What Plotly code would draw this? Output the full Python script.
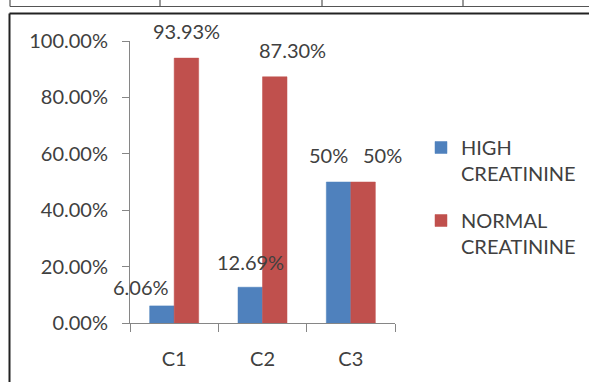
import plotly.graph_objects as go

# Creatinine groups per class
categories = ["C1", "C2", "C3"]
high_creatinine = [6.06, 12.69, 50]
normal_creatinine = [93.93, 87.30, 50]
series_names = ["HIGH<br>CREATININE", "NORMAL<br>CREATININE"]
y_ticks = [0, 20, 40, 60, 80, 100]

W, H = 589, 382
ML, MR, MT, MB = 130, 194, 41, 59
BARGAP = 0.445
BLUE = "#4F81BD"
RED = "#C0504D"
TEXT = "#404040"
AXIS = "#868686"
FONT = "Lato"


def fmt(v):
    return f"{v:.0f}%" if float(v).is_integer() else f"{v:.2f}%"


def px_x(px):
    return (px - ML) / (W - ML - MR)


def px_y(py):
    return (H - MB - py) / (H - MT - MB)


fig = go.Figure()
fig.add_trace(go.Bar(x=categories, y=high_creatinine, name=series_names[0],
                     marker=dict(color=BLUE, line=dict(color=BLUE, width=0.5)),
                     legendgroup="high"))
fig.add_trace(go.Bar(x=categories, y=normal_creatinine, name=series_names[1],
                     marker=dict(color=RED, line=dict(color=RED, width=0.5)),
                     legendgroup="normal"))

# Value labels, placed relative to each bar (pixel nudges per label)
half = (1 - BARGAP) / 4
nudges_high = [(-21, 19), (0, 25), (-10, 27)]
nudges_normal = [(0, 27), (17.5, 27), (19.5, 27)]
annotations = []
for i, (v, (dx, dy)) in enumerate(zip(high_creatinine, nudges_high)):
    annotations.append(dict(x=i - half, y=v, xref="x", yref="y", text=fmt(v),
                            showarrow=False, xshift=dx, yshift=dy,
                            font=dict(family=FONT, size=20, color=TEXT)))
for i, (v, (dx, dy)) in enumerate(zip(normal_creatinine, nudges_normal)):
    annotations.append(dict(x=i + half, y=v, xref="x", yref="y", text=fmt(v),
                            showarrow=False, xshift=dx, yshift=dy,
                            font=dict(family=FONT, size=20, color=TEXT)))

# Page frame: table row above and the box around the chart
shapes = [
    dict(type="line", xref="paper", yref="paper", x0=px_x(10), x1=px_x(600),
         y0=px_y(6.5), y1=px_y(6.5), line=dict(color="#555555", width=1.2)),
]
for vx in [10, 160, 322, 463]:
    shapes.append(dict(type="line", xref="paper", yref="paper", x0=px_x(vx), x1=px_x(vx),
                       y0=px_y(-2), y1=px_y(6.5), line=dict(color="#555555", width=1.2)))
shapes += [
    dict(type="line", xref="paper", yref="paper", x0=px_x(9.5), x1=px_x(600),
         y0=px_y(13.5), y1=px_y(13.5), line=dict(color="#222222", width=2)),
    dict(type="line", xref="paper", yref="paper", x0=px_x(9.5), x1=px_x(9.5),
         y0=px_y(13.5), y1=px_y(400), line=dict(color="#222222", width=2)),
]

fig.update_layout(
    width=W, height=H,
    margin=dict(l=ML, r=MR, t=MT, b=MB, pad=0),
    paper_bgcolor="white", plot_bgcolor="white",
    barmode="group", bargap=BARGAP, bargroupgap=0,
    font=dict(family=FONT, size=20, color=TEXT),
    showlegend=True,
    legend=dict(xref="container", yref="container", x=421 / W, y=1 - 128 / H,
                xanchor="left", yanchor="top", valign="top",
                font=dict(family=FONT, size=20, color=TEXT),
                tracegroupgap=18, traceorder="grouped",
                bgcolor="rgba(0,0,0,0)", borderwidth=0),
    annotations=annotations,
    shapes=shapes,
)
fig.update_xaxes(type="category", range=[-0.5, len(categories) - 0.5],
                 tickson="boundaries", ticks="outside", ticklen=8,
                 tickcolor=AXIS, showline=True, linecolor=AXIS, linewidth=1,
                 showgrid=False, ticklabelstandoff=18,
                 tickfont=dict(family=FONT, size=20, color=TEXT))
fig.update_yaxes(range=[0, 100], tickvals=y_ticks,
                 ticktext=[f"{t:.2f}%" for t in y_ticks],
                 ticks="outside", ticklen=7, tickcolor=AXIS, showline=True,
                 linecolor=AXIS, linewidth=1, showgrid=False, zeroline=False,
                 ticklabelstandoff=10,
                 tickfont=dict(family=FONT, size=20, color=TEXT))

fig.write_html("out.html")
